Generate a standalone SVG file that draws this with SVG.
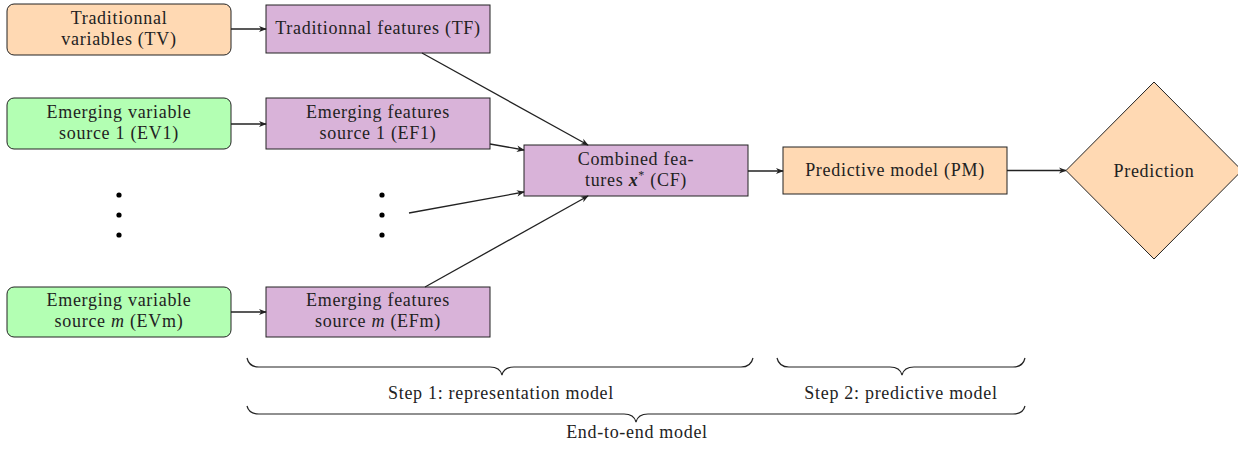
<svg xmlns="http://www.w3.org/2000/svg" width="1238" height="452" viewBox="0 0 1238 452">
<defs>
<style>
text{font-family:"Liberation Serif","Times New Roman",serif;font-size:18px;fill:#222;letter-spacing:0.7px;text-anchor:middle}
.orange{fill:#FFD9B3;stroke:#222;stroke-width:1}
.green{fill:#B3FFB3;stroke:#222;stroke-width:1}
.violet{fill:#D9B3D9;stroke:#222;stroke-width:1}
.edge{fill:none;stroke:#222;stroke-width:1.3;marker-end:url(#arr)}
.brace{fill:none;stroke:#222;stroke-width:1.2}
.dot{fill:#000}
</style>
<marker id="arr" viewBox="0 0 10 10" refX="9" refY="5" markerWidth="8" markerHeight="8" markerUnits="userSpaceOnUse" orient="auto">
<path d="M0,1 L10,5 L0,9 L3,5 Z" fill="#222"/>
</marker>
</defs>
<rect width="1238" height="452" fill="#fff"/>

<g id="TV"><rect class="orange" x="7" y="4" width="224" height="51" rx="7"/>
<text x="119" y="23.5">Traditionnal</text><text x="119" y="44.5">variables (TV)</text></g>
<g id="TF"><rect class="violet" x="266" y="5" width="224" height="48"/>
<text x="378" y="34">Traditionnal features (TF)</text></g>

<g id="EV1"><rect class="green" x="7" y="98" width="224" height="51" rx="7"/>
<text x="119" y="117.5">Emerging variable</text><text x="119" y="138.5">source 1 (EV1)</text></g>
<g id="EF1"><rect class="violet" x="266" y="98" width="224" height="51"/>
<text x="378" y="117.5">Emerging features</text><text x="378" y="138.5">source 1 (EF1)</text></g>

<g id="dots-left"><circle class="dot" cx="119" cy="195" r="2.6"/><circle class="dot" cx="119" cy="215" r="2.6"/><circle class="dot" cx="119" cy="235" r="2.6"/></g>
<g id="dots-right"><circle class="dot" cx="382" cy="195" r="2.6"/><circle class="dot" cx="382" cy="215" r="2.6"/><circle class="dot" cx="382" cy="235" r="2.6"/></g>

<g id="EVm"><rect class="green" x="7" y="287" width="224" height="50" rx="7"/>
<text x="119" y="306">Emerging variable</text><text x="119" y="327">source <tspan font-style="italic">m</tspan> (EVm)</text></g>
<g id="EFm"><rect class="violet" x="266" y="287" width="224" height="50"/>
<text x="378" y="306">Emerging features</text><text x="378" y="327">source <tspan font-style="italic">m</tspan> (EFm)</text></g>

<g id="CF"><rect class="violet" x="524" y="145" width="224" height="51"/>
<text x="636" y="165">Combined fea-</text><text x="636" y="185.5">tures <tspan font-weight="bold" font-style="italic">x</tspan><tspan font-size="12" dy="-7">*</tspan><tspan dy="7"> (CF)</tspan></text></g>

<g id="PM"><rect class="orange" x="783" y="147" width="224" height="47"/>
<text x="895" y="176">Predictive model (PM)</text></g>

<g id="Prediction"><path class="orange" d="M1154,82 L1242,170.5 L1154,259 L1066,170.5 Z"/>
<text x="1154" y="176.5">Prediction</text></g>

<g id="connectors">
<line class="edge" x1="231" y1="29" x2="266" y2="29"/>
<line class="edge" x1="231" y1="124" x2="266" y2="124"/>
<line class="edge" x1="231" y1="312" x2="266" y2="312"/>
<line class="edge" x1="422" y1="53" x2="588" y2="145"/>
<line class="edge" x1="490" y1="144" x2="524" y2="150"/>
<line class="edge" x1="409" y1="213" x2="524" y2="192"/>
<line class="edge" x1="425" y1="287" x2="588" y2="196"/>
<line class="edge" x1="748" y1="171" x2="783" y2="171"/>
<line class="edge" x1="1007" y1="170.5" x2="1066" y2="170.5"/>
</g>

<g id="braces">
<path class="brace" d="M247,358 Q249,367 259,367 L490,367 Q500,367 502,375 Q504,367 514,367 L741,367 Q751,367 753,358"/>
<path class="brace" d="M777,358 Q779,367 789,367 L890,367 Q900,367 902,375 Q904,367 914,367 L1013,367 Q1023,367 1025,358"/>
<path class="brace" d="M247,406 Q249,414 259,414 L624,414 Q634,414 636,422 Q638,414 648,414 L1013,414 Q1023,414 1025,406"/>
<text x="501" y="399">Step 1: representation model</text>
<text x="901" y="399">Step 2: predictive model</text>
<text x="637" y="438">End-to-end model</text>
</g>
</svg>
